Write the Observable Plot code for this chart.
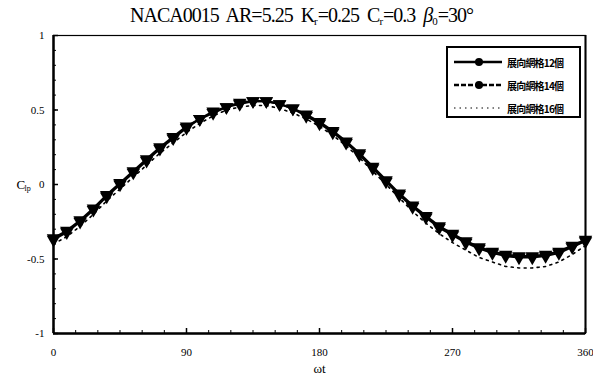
<!DOCTYPE html>
<html>
<head>
<meta charset="utf-8">
<script src="https://cdn.jsdelivr.net/npm/d3@7"></script>
<script src="https://cdn.jsdelivr.net/npm/@observablehq/plot@0.6"></script>
<style>
  html, body { margin: 0; padding: 0; background: #fff; }
  #wrap { position: relative; width: 593px; height: 381px; overflow: hidden; }
  #title { height: 28px; line-height: 30px; text-align: left; padding-left: 130px; font-family: "Liberation Serif", serif; font-size: 20px; color: #000; word-spacing: 4px; letter-spacing: -1px; white-space: nowrap; }
  #title sub { font-size: 11px; vertical-align: -3px; line-height: 0; letter-spacing: 0; }
  #chart svg text { font-family: "Liberation Serif", serif !important; }
  #legend { position: absolute; left: 446px; top: 46px; width: 131px; height: 68px; border: 2px solid #000; background: #fff; }
  .entry { position: absolute; left: 4px; height: 16px; width: 128px; }
  .entry svg { position: absolute; left: 0; top: 0; }
  .entry span { position: absolute; left: 55px; top: 1px; font-family: "Noto Sans CJK TC", sans-serif; font-size: 10px; font-weight: bold; letter-spacing: -0.8px; white-space: nowrap; color: #000; }
</style>
</head>
<body>
<div id="wrap">
  <div id="title">NACA0015 AR=5.25 K<sub>r</sub>=0.25 C<sub>r</sub>=0.3 <i>β</i><sub>0</sub>=30°</div>
  <div id="chart"></div>
  <div id="legend"></div>
</div>
<script>
// ---- data ----
const angles = [0,9,18,27,36,45,54,63,72,81,90,99,108,117,126,135,144,153,162,171,180,189,198,207,216,225,234,243,252,261,270,279,288,297,306,315,324,333,342,351,360];
const grid12 = [-0.36,-0.31,-0.24,-0.16,-0.07,0.01,0.09,0.17,0.25,0.32,0.39,0.44,0.49,0.52,0.55,0.56,0.56,0.54,0.51,0.47,0.42,0.36,0.29,0.21,0.12,0.03,-0.06,-0.14,-0.21,-0.28,-0.33,-0.38,-0.42,-0.45,-0.47,-0.48,-0.48,-0.47,-0.45,-0.41,-0.37];
const grid14 = [-0.37,-0.32,-0.25,-0.17,-0.08,0.00,0.08,0.16,0.24,0.31,0.38,0.44,0.48,0.52,0.54,0.56,0.56,0.54,0.51,0.46,0.41,0.35,0.28,0.20,0.11,0.02,-0.07,-0.15,-0.22,-0.29,-0.34,-0.39,-0.43,-0.46,-0.48,-0.49,-0.49,-0.48,-0.46,-0.42,-0.38];
const grid16 = [-0.40,-0.35,-0.28,-0.20,-0.11,-0.03,0.05,0.13,0.21,0.28,0.35,0.41,0.46,0.50,0.52,0.53,0.53,0.51,0.48,0.44,0.39,0.33,0.26,0.18,0.09,0.00,-0.09,-0.18,-0.26,-0.33,-0.39,-0.44,-0.49,-0.52,-0.55,-0.56,-0.56,-0.55,-0.52,-0.47,-0.41];
const seriesNames = ["展向網格12個", "展向網格14個", "展向網格16個"];
const xTicks = [0, 90, 180, 270, 360];
const xMinor = d3.range(0, 361, 15);
const yTicks = [-1, -0.5, 0, 0.5, 1];
const yMinor = d3.range(-10, 11).map(d => d / 10);

const rows = (vals) => angles.map((a, i) => ({a, v: vals[i]}));
const d12 = rows(grid12), d14 = rows(grid14), d16 = rows(grid16);

const W = 593, H = 353, mL = 53, mR = 8, mT = 7, mB = 48;
const innerW = W - mL - mR, innerH = H - mT - mB;
const serif = "Liberation Serif, serif";

const chart = Plot.plot({
  width: W, height: H,
  marginLeft: mL, marginRight: mR, marginTop: mT, marginBottom: mB,
  style: {fontFamily: serif, fontSize: "10px", background: "#fff", color: "#000"},
  x: {domain: [0, 360]},
  y: {domain: [-1, 1]},
  marks: [
    Plot.axisX({ticks: xTicks, tickSize: 0, tickPadding: 15, label: null, fontSize: 11, fontFamily: serif}),
    Plot.axisY({ticks: yTicks, tickSize: 0, tickPadding: 9, label: null, tickFormat: d => String(d), fontSize: 11, fontFamily: serif}),
    // inward ticks
    Plot.tickY(yMinor, {y: d => d, stroke: "#000", strokeWidth: 1, insetRight: innerW - 3}),
    Plot.tickY(yTicks, {y: d => d, stroke: "#000", strokeWidth: 1.5, insetRight: innerW - 5}),
    Plot.tickX(xMinor, {x: d => d, stroke: "#000", strokeWidth: 1, insetTop: innerH - 3}),
    Plot.tickX(xTicks, {x: d => d, stroke: "#000", strokeWidth: 1.5, insetTop: innerH - 5}),
    Plot.frame({stroke: "#000", strokeWidth: 1.2}),
    Plot.ruleX([0], {stroke: "#000", strokeWidth: 2.5}),
    Plot.ruleX([360], {stroke: "#000", strokeWidth: 2}),
    Plot.ruleY([-1], {stroke: "#000", strokeWidth: 2.5}),
    // series
    Plot.line(d16, {x: "a", y: "v", stroke: "#000", strokeWidth: 1.6, strokeDasharray: "2,4.5"}),
    Plot.line(d12, {x: "a", y: "v", stroke: "#000", strokeWidth: 2.2}),
    Plot.line(d14, {x: "a", y: "v", stroke: "#000", strokeWidth: 2.2}),
    Plot.dot(d12, {x: "a", y: "v", symbol: "triangle", rotate: 180, r: 5, fill: "#000", stroke: "none"}),
    Plot.dot(d14, {x: "a", y: "v", symbol: "triangle", rotate: 180, r: 5, fill: "#000", stroke: "none"}),
    // axis titles
    Plot.text(["ωt"], {frameAnchor: "bottom", lineAnchor: "middle", dy: 35, fontSize: 13, fill: "#000", fontFamily: serif}),
    Plot.text(["C"], {frameAnchor: "left", lineAnchor: "middle", dx: -37, dy: 0, fontSize: 13, fill: "#000", fontFamily: serif}),
    Plot.text(["lp"], {frameAnchor: "left", lineAnchor: "middle", dx: -29, dy: 4, fontSize: 8, fill: "#000", fontFamily: serif})
  ]
});
document.getElementById("chart").appendChild(chart);

// legend
const legend = document.getElementById("legend");
const styles = [
  {dash: null, width: 2.6, marker: true},
  {dash: "5,2", width: 2.6, marker: true},
  {dash: "1.5,4", width: 1, marker: false}
];
seriesNames.forEach((name, i) => {
  const e = document.createElement("div");
  e.className = "entry";
  e.style.top = (6 + i * 23) + "px";
  const s = styles[i];
  let svg = `<svg width="52" height="16"><line x1="2" x2="50" y1="8" y2="8" stroke="#000" stroke-width="${s.width}" ${s.dash ? `stroke-dasharray="${s.dash}"` : ""}/>`;
  if (s.marker) svg += `<circle cx="27" cy="8" r="4" fill="#000"/>`;
  svg += `</svg>`;
  e.innerHTML = svg + `<span>${name}</span>`;
  legend.appendChild(e);
});
</script>
</body>
</html>
